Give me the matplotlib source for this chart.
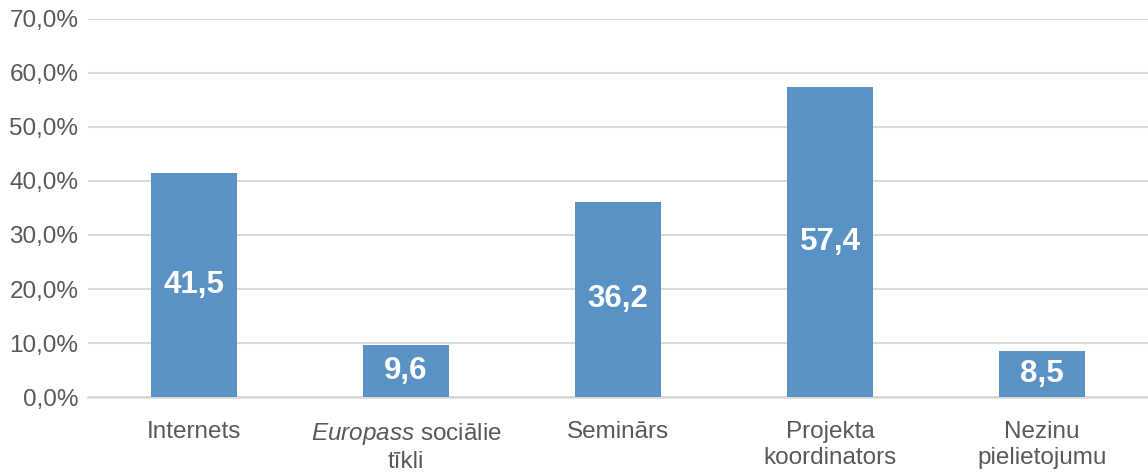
import matplotlib
matplotlib.use("Agg")
import matplotlib.pyplot as plt
from matplotlib.ticker import FuncFormatter

plt.rcParams['font.family'] = ['Liberation Sans', 'DejaVu Sans']
plt.rcParams['mathtext.fontset'] = 'custom'
plt.rcParams['mathtext.rm'] = 'Liberation Sans'
plt.rcParams['mathtext.it'] = 'Liberation Sans:italic'

categories = ["Internets", "$\\it{Europass}$ sociālie\ntīkli", "Seminārs", "Projekta\nkoordinators", "Nezinu\npielietojumu"]
values = [41.5, 9.6, 36.2, 57.4, 8.5]
yticks = [0, 10, 20, 30, 40, 50, 60, 70]

bar_color = '#5a92c6'
grid_color = '#d9d9d9'
text_color = '#595959'

fig = plt.figure(figsize=(11.48, 4.74), dpi=100)
ax = fig.add_axes([0.0767, 0.1624, 0.9233, 0.7976])

x = range(len(values))
bars = ax.bar(x, values, width=0.405, color=bar_color, zorder=3)

for b, v in zip(bars, values):
    ax.text(b.get_x() + b.get_width() / 2, v / 2, f"{v:.1f}".replace('.', ','),
            ha='center', va='center', color='white', fontsize=22.5, fontweight='bold', zorder=4)

ax.set_xlim(-0.5, len(values) - 0.5)
ax.set_ylim(0, 70)
ax.set_yticks(yticks)
ax.yaxis.set_major_formatter(FuncFormatter(lambda v, p: f"{v:.1f}%".replace('.', ',')))
ax.set_xticks(list(x))
ax.set_xticklabels(categories, linespacing=1.25)
ax.tick_params(axis='both', length=0, labelsize=17.5, labelcolor=text_color)
ax.tick_params(axis='x', pad=17)
ax.tick_params(axis='y', pad=7)

ax.grid(axis='y', color=grid_color, linewidth=1.5, zorder=0)
for s in ['top', 'right', 'left']:
    ax.spines[s].set_visible(False)
ax.spines['bottom'].set_color(grid_color)
ax.spines['bottom'].set_linewidth(1.8)

fig.savefig("out.png", dpi=100)
